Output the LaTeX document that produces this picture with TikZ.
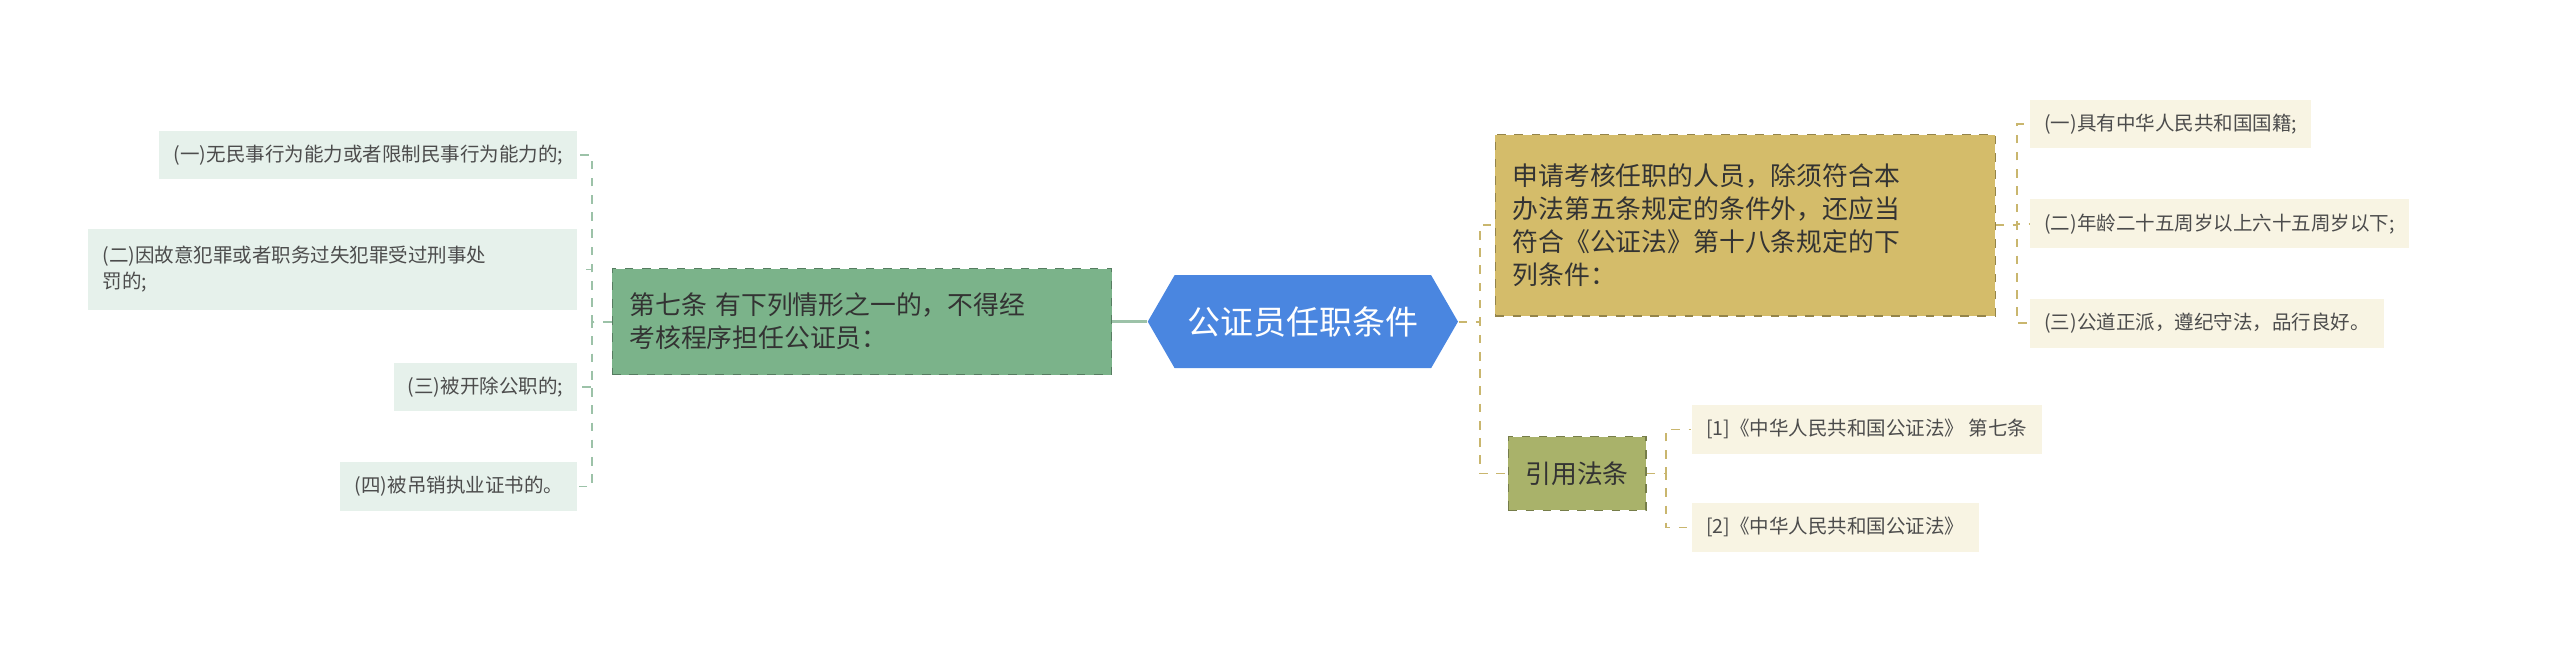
\documentclass[tikz,border=0pt]{standalone}
\usepackage{fontspec}
\setmainfont{Noto Sans CJK SC}
\usetikzlibrary{positioning, shapes.symbols}
\definecolor{hubblue}{HTML}{4A86E0}
\definecolor{midgreen}{HTML}{7BB38A}
\definecolor{leafgreen}{HTML}{E6F1EB}
\definecolor{midtan}{HTML}{D4BC6A}
\definecolor{midolive}{HTML}{A9B26A}
\definecolor{leafcream}{HTML}{F8F4E3}
\definecolor{lgline}{HTML}{9CC2A8}
\definecolor{rtline}{HTML}{C9B66E}
\tikzset{
  leaf/.style={anchor=east, inner xsep=5pt, font=\fontsize{6.8}{9}\selectfont, text=black!70, align=left, minimum height=17pt},
  leafl/.style={leaf, fill=leafgreen},
  leafr/.style={leaf, anchor=west, fill=leafcream},
  midbox/.style={inner xsep=6pt, font=\fontsize{9}{11.5}\selectfont, text=black!80, align=left, draw, dashed},
  lline/.style={lgline, dashed, line width=0.6pt},
  rline/.style={rtline, dashed, line width=0.6pt},
}
\begin{document}
\begin{tikzpicture}[x=0.02cm, y=-0.02cm]
\useasboundingbox (0,0) rectangle (1568,400);
% centre
\node[signal, signal to=east and west, signal pointer angle=120, fill=hubblue, text=white,
      font=\fontsize{11.5}{13}\selectfont, minimum width=190*0.02cm, minimum height=57*0.02cm,
      inner xsep=2pt] (hub) at (798,197) {公证员任职条件};
% left branch
\node[midbox, fill=midgreen, draw=midgreen!70!black, text width=285*0.02cm, minimum height=65*0.02cm] (seven) at (528,197)
  {第七条 有下列情形之一的，不得经\\考核程序担任公证员：};
\node[leafl] (l1) at (354,95) {(一)无民事行为能力或者限制民事行为能力的;};
\node[leafl, text width=282*0.02cm, minimum height=50*0.02cm] (l2) at (354,165) {(二)因故意犯罪或者职务过失犯罪受过刑事处\\罚的;};
\node[leafl] (l3) at (354,237) {(三)被开除公职的;};
\node[leafl] (l4) at (354,298) {(四)被吊销执业证书的。};
% right branch
\node[midbox, fill=midtan, draw=midtan!70!black, text width=285*0.02cm, minimum height=111*0.02cm] (apply) at (1069,138)
  {申请考核任职的人员，除须符合本\\办法第五条规定的条件外，还应当\\符合《公证法》第十八条规定的下\\列条件：};
\node[midbox, fill=midolive, draw=midolive!70!black, minimum height=45*0.02cm] (cite) at (966,290) {引用法条};
\node[leafr] (r1) at (1243,76) {(一)具有中华人民共和国国籍;};
\node[leafr] (r2) at (1243,137) {(二)年龄二十五周岁以上六十五周岁以下;};
\node[leafr] (r3) at (1243,198) {(三)公道正派，遵纪守法，品行良好。};
\node[leafr] (b1) at (1036,263) {[1]《中华人民共和国公证法》 第七条};
\node[leafr] (b2) at (1036,323) {[2]《中华人民共和国公证法》};
% connectors
\draw[lgline, line width=0.8pt] (hub.west) -- (seven.east);
\foreach \n in {l1,l2,l3,l4}
  \draw[lline] (seven.west) -- ++(-12,0) |- (\n.east);
\foreach \n in {apply,cite}
  \draw[rline] (hub.east) -- ++(13,0) |- (\n.west);
\foreach \n in {r1,r2,r3}
  \draw[rline] (apply.east) -- ++(13,0) |- (\n.west);
\foreach \n in {b1,b2}
  \draw[rline] (cite.east) -- ++(12,0) |- (\n.west);
\end{tikzpicture}
\end{document}
